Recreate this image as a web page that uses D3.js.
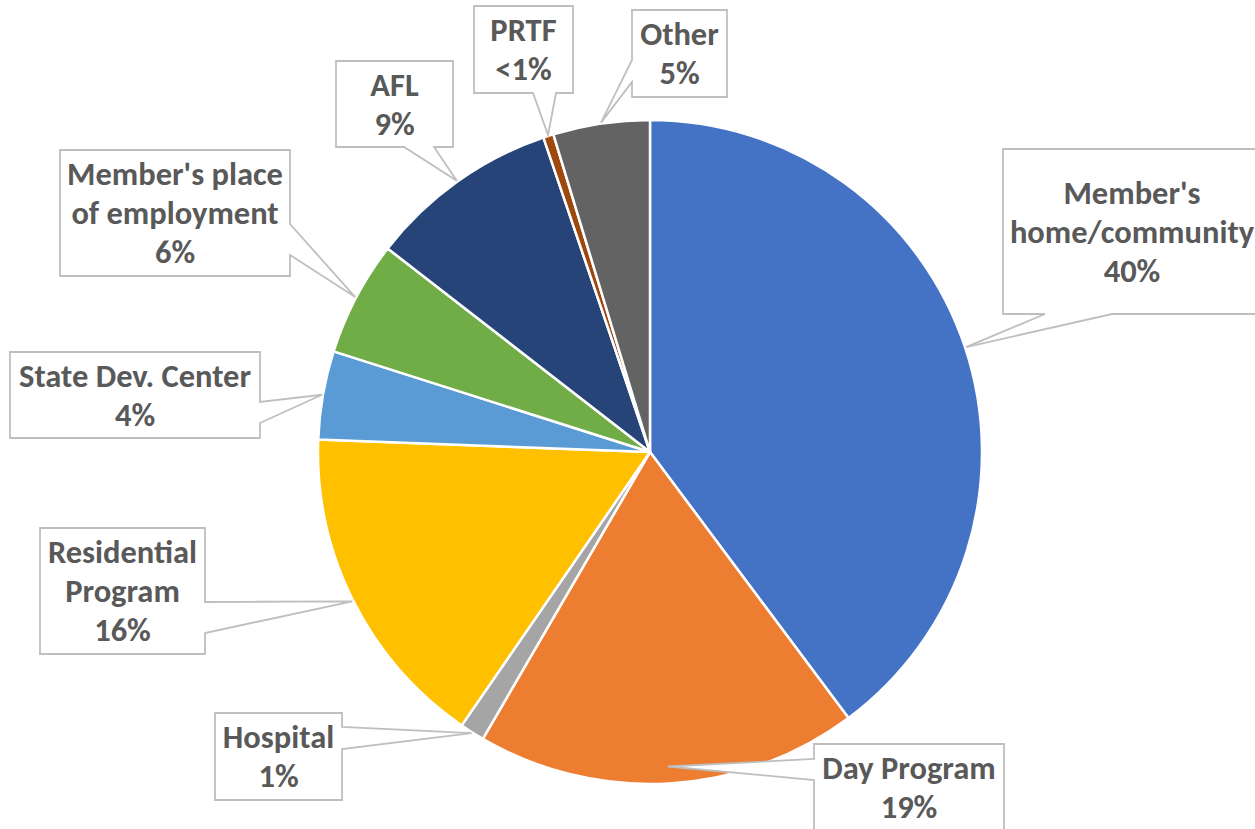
<!DOCTYPE html>
<html>
<head>
<meta charset="utf-8">
<script src="https://cdn.jsdelivr.net/npm/d3@7"></script>
<style>
    body { margin: 0; background: #fff; }
    .callout text {
        font-family: "Carlito", "Liberation Sans Narrow", "Arial Narrow", sans-serif;
        font-weight: bold;
        font-size: 32.5px;
        fill: #595959;
        text-anchor: middle;
    }
</style>
</head>
<body>
<div id="chart"></div>
<script>
// data
var categories = ["Member's home/community", "Day Program", "Hospital", "Residential Program",
    "State Dev. Center", "Member's place of employment", "AFL", "PRTF", "Other"];
var values = [39.8, 18.6, 1.2, 16.0, 4.3, 5.6, 9.3, 0.5, 4.7];
var pctLabels = ["40%", "19%", "1%", "16%", "4%", "6%", "9%", "<1%", "5%"];
var labelLines = [
    ["Member's", "home/community"],
    ["Day Program"],
    ["Hospital"],
    ["Residential", "Program"],
    ["State Dev. Center"],
    ["Member's place", "of employment"],
    ["AFL"],
    ["PRTF"],
    ["Other"]
];
var colors = ["#4472C4", "#ED7D31", "#A5A5A5", "#FFC000", "#5B9BD5", "#70AD47", "#264478", "#9E480E", "#636363"];

// callout boxes: [x0, y0, x1, y1], side of the pointer, pointer base from a to b, tip radius offset
var callouts = [
    { box: [1003, 149, 1261, 314], side: "bottom", a: 1045, b: 1112, dr: 1 },
    { box: [814, 744, 1004, 831], side: "left", a: 759, b: 780, dr: -17 },
    { box: [215, 713, 342, 800], side: "right", a: 727, b: 749, dr: 1 },
    { box: [40, 528, 205, 654], side: "right", a: 602, b: 633, dr: 1 },
    { box: [10, 352, 260, 438], side: "right", a: 402, b: 423, dr: 1 },
    { box: [60, 150, 290, 276], side: "right", a: 224, b: 255, dr: 1 },
    { box: [336, 61, 453, 147], side: "bottom", a: 404, b: 434, dr: 1 },
    { box: [474, 6, 573, 93], side: "bottom", a: 533, b: 556, dr: 1 },
    { box: [632, 10, 727, 97], side: "left", a: 60, b: 82, dr: 1 }
];

var svgWidth = 1255;
var svgHeight = 829;
var cx = 650, cy = 452, radius = 332;
var lineHeight = 39;

var svg = d3.select("#chart")
    .append("svg")
    .attr("width", svgWidth)
    .attr("height", svgHeight);

var pie = d3.pie().sort(null).value(d => d);
var arcs = pie(values);

var arc = d3.arc().innerRadius(0).outerRadius(radius);

var pieGroup = svg.append("g")
    .attr("transform", `translate(${cx}, ${cy})`);

pieGroup.selectAll("path")
    .data(arcs)
    .enter()
    .append("path")
    .attr("d", arc)
    .attr("fill", (d, i) => colors[i])
    .attr("stroke", "#fff")
    .attr("stroke-width", 2.5)
    .attr("stroke-linejoin", "round");

// callout shape with a wedge pointer to the slice
function calloutPath(c, tip) {
    var x0 = c.box[0], y0 = c.box[1], x1 = c.box[2], y1 = c.box[3];
    var t = `L${tip[0]},${tip[1]}`;
    if (c.side === "bottom") {
        return `M${x0},${y0}H${x1}V${y1}H${c.b}${t}L${c.a},${y1}H${x0}Z`;
    } else if (c.side === "right") {
        return `M${x0},${y0}H${x1}V${c.a}${t}L${x1},${c.b}V${y1}H${x0}Z`;
    } else {
        return `M${x0},${y0}H${x1}V${y1}H${x0}V${c.b}${t}L${x0},${c.a}Z`;
    }
}

var labelGroup = svg.append("g");

arcs.forEach(function(d, i) {
    var c = callouts[i];
    var mid = (d.startAngle + d.endAngle) / 2;
    var r = radius + c.dr;
    var tip = [cx + r * Math.sin(mid), cy - r * Math.cos(mid)];

    var g = labelGroup.append("g").attr("class", "callout");

    g.append("path")
        .attr("d", calloutPath(c, tip))
        .attr("fill", "#fff")
        .attr("stroke", "#BFBFBF")
        .attr("stroke-width", 1.8);

    var lines = labelLines[i].concat([pctLabels[i]]);
    var midX = (c.box[0] + c.box[2]) / 2;
    var midY = (c.box[1] + c.box[3]) / 2;
    var firstBase = midY - (lines.length - 1) * lineHeight / 2 + 11;

    lines.forEach(function(line, j) {
        g.append("text")
            .attr("x", midX)
            .attr("y", firstBase + j * lineHeight)
            .text(line);
    });
});
</script>
</body>
</html>
